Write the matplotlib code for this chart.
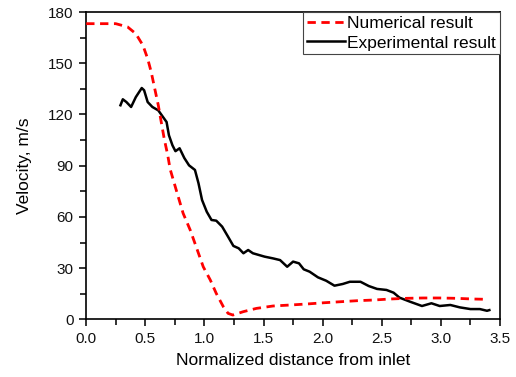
import matplotlib
matplotlib.use("Agg")
import matplotlib.pyplot as plt
from matplotlib.ticker import MultipleLocator

plt.rcParams['font.family'] = ['Liberation Sans', 'DejaVu Sans']

# numerical result (red dashed)
num_x = [0.0, 0.25, 0.35, 0.42, 0.48, 0.52, 0.55, 0.58, 0.61, 0.63, 0.66,
         0.69, 0.71, 0.77, 0.82, 0.88, 0.94, 0.99, 1.05, 1.10, 1.16, 1.20,
         1.24, 1.33, 1.44, 1.58, 1.73, 1.87, 2.01, 2.15, 2.29, 2.43, 2.57,
         2.71, 2.85, 2.99, 3.13, 3.27, 3.40]
num_y = [173.2, 173.2, 171.3, 167.3, 160.5, 152.7, 144.9, 135.1, 125.4, 117.5,
         105.8, 96.1, 88.0, 73.8, 62.1, 52.3, 40.6, 30.8, 23.0, 15.2, 7.4, 3.5,
         2.5, 4.5, 6.4, 7.8, 8.4, 9.0, 9.7, 10.3, 10.9, 11.3, 11.9,
         12.3, 12.5, 12.5, 12.3, 11.9, 11.7]

# experimental result (black solid)
exp_x = [0.29, 0.31, 0.34, 0.38, 0.42, 0.47, 0.49, 0.52, 0.56, 0.61, 0.65,
         0.68, 0.70, 0.73, 0.755, 0.79, 0.83, 0.87, 0.92, 0.95, 0.98, 1.02,
         1.06, 1.10, 1.15, 1.20, 1.245, 1.29, 1.33, 1.37, 1.41, 1.51, 1.58,
         1.64, 1.70, 1.75, 1.80, 1.84, 1.89, 1.96, 2.03, 2.10, 2.17, 2.23,
         2.32, 2.39, 2.46, 2.54, 2.60, 2.65, 2.74, 2.84, 2.92, 2.99, 3.08,
         3.16, 3.25, 3.33, 3.39, 3.41]
exp_y = [125.4, 128.9, 127.3, 124.4, 130.2, 135.5, 134.2, 127.3, 124.4, 122.4,
         118.5, 115.6, 107.8, 101.9, 98.5, 100.2, 94.5, 90.2, 87.5, 79.7, 69.9,
         63.0, 58.2, 57.8, 54.3, 48.4, 43.0, 41.6, 38.7, 40.6, 38.7, 36.7, 35.7,
         34.7, 30.8, 33.8, 32.8, 29.3, 27.9, 24.6, 22.6, 19.7, 20.7, 22.0,
         22.0, 19.5, 17.8, 17.2, 15.6, 12.7, 10.3, 7.8, 9.4, 7.8, 8.4,
         7.0, 6.0, 6.0, 5.0, 5.4]

fig = plt.figure(figsize=(5.16, 3.77), dpi=100)
ax = fig.add_axes([0.167, 0.153, 0.802, 0.815])

ax.plot(num_x, num_y, color='#ff0000', lw=2.0, ls=(0, (3, 2)),
        label='Numerical result', zorder=3)
ax.plot(exp_x, exp_y, color='black', lw=1.8, label='Experimental result',
        zorder=2)

ax.set_xlim(0, 3.5)
ax.set_ylim(0, 180)
ax.xaxis.set_major_locator(MultipleLocator(0.5))
ax.xaxis.set_minor_locator(MultipleLocator(0.25))
ax.yaxis.set_major_locator(MultipleLocator(30))
ax.yaxis.set_minor_locator(MultipleLocator(15))
ax.tick_params(which='both', direction='out', top=False, right=False,
               labelsize=11, width=1.2, colors='#111111')
ax.tick_params(which='major', length=5, pad=4)
ax.tick_params(which='minor', length=4)
for s in ax.spines.values():
    s.set_linewidth(1.2)

ax.set_xlabel('Normalized distance from inlet', fontsize=12.5, labelpad=5)
ax.set_ylabel('Velocity, m/s', fontsize=12.5, labelpad=12)

leg = ax.legend(loc='upper right', borderaxespad=0, fontsize=12.5,
                fancybox=False, handlelength=2.2, handletextpad=0.15,
                borderpad=0.22, labelspacing=0.25, framealpha=1)
leg.get_frame().set_edgecolor('#444444')
leg.get_frame().set_linewidth(0.8)

fig.savefig('out.png', dpi=100)
